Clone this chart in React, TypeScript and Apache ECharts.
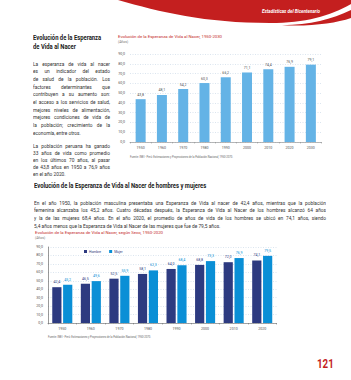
import React, { useEffect, useRef } from "react";
import * as echarts from "echarts";

// ---- Data ----
const years1 = ["1950", "1960", "1970", "1980", "1990", "2000", "2010", "2020", "2030"];
const lifeExpectancy = [43.8, 48.1, 54.2, 60.3, 66.2, 71.1, 74.4, 76.9, 79.1];
const years2 = ["1950", "1960", "1970", "1980", "1990", "2000", "2010", "2020"];
const hombres = [42.4, 46.5, 52.5, 58.1, 64.0, 68.8, 72.0, 74.1];
const mujeres = [45.2, 49.6, 55.9, 62.3, 68.4, 73.3, 76.9, 79.5];
const seriesNames = ["Hombre", "Mujer"];

const para1 = [
  "La esperanza de vida al nacer",
  "es un indicador del estado",
  "de salud de la población. Los",
  "factores determinantes que",
  "contribuyen a su aumento son:",
  "el acceso a los servicios de salud,",
  "mejores niveles de alimentación,",
  "mejores condiciones de vida de",
  "la población; crecimiento de la",
  "economía, entre otros.",
];
const para1b = [
  "La población peruana ha ganado",
  "33 años de vida como promedio",
  "en los últimos 70 años, al pasar",
  "de 43,8 años en 1950 a 76,9 años",
  "en el año 2020.",
];
const para2 = [
  "En el año 1950, la población masculina presentaba una Esperanza de Vida al nacer de 42,4 años, mientras que la población",
  "femenina alcanzaba los 45,2 años. Cuatro décadas después, la Esperanza de Vida al Nacer de los hombres alcanzó 64 años",
  "y la de las mujeres 68,4 años. En el año 2020, el promedio de años de vida de los hombres se ubicó en 74,1 años, siendo",
  "5,4 años menos que la Esperanza de Vida al Nacer de las mujeres que fue de 79,5 años.",
];

const fmt = (v: number) => v.toFixed(1).replace(".", ",");

const FONT = "Roboto, 'Noto Sans', sans-serif";

function Line(props: {
  text: string; x: number; y: number; w?: number; size: number; lh: number;
  scale: number; bold?: boolean; justify?: boolean; color?: string;
}) {
  const { text, x, y, w, size, lh, scale, bold, justify, color } = props;
  const style: React.CSSProperties = {
    position: "absolute",
    left: x,
    top: y - lh / 2,
    height: lh,
    lineHeight: lh + "px",
    fontSize: size,
    fontFamily: FONT,
    fontWeight: bold ? 700 : 400,
    color: color || "#333",
    transform: `scaleX(${scale})`,
    transformOrigin: "left center",
    whiteSpace: justify ? "normal" : "nowrap",
    textAlign: justify ? "justify" : "left",
    textAlignLast: justify ? "justify" : "left",
    width: w ? w / scale : undefined,
    overflow: "visible",
  } as React.CSSProperties;
  return <div style={style}>{text}</div>;
}

export default function App() {
  const ref = useRef<HTMLDivElement>(null);

  useEffect(() => {
    if (!ref.current) return;
    echarts.graphic.registerShape(
      "swooshMain",
      echarts.graphic.extendPath(
        "M118,0 C160,12 205,23 270,23 C305,23 330,16 351,4 L351,0 Z",
        {}
      )
    );
    echarts.graphic.registerShape(
      "swooshSliver",
      echarts.graphic.extendPath(
        "M282,25.2 C310,25 332,19 351,10 L351,18 C335,23.5 310,26.6 282,25.2 Z",
        {}
      )
    );
    const chart = echarts.init(ref.current, null, { renderer: "svg" });
    const red = "#c41f1f";
    const gridLine = { show: true, lineStyle: { color: "#c3d4e4", type: [1, 1.5] as any, width: 0.6 } };
    const axisLabelY = { fontSize: 3.6, color: "#555", margin: 5, fontFamily: FONT, formatter: (v: number) => fmt(v) };
    const axisLabelX = { fontSize: 3.6, color: "#555", margin: 4, fontFamily: FONT };

    chart.setOption({
      animation: false,
      textStyle: { fontFamily: FONT },
      grid: [
        { left: 130, right: 29.5, top: 54, bottom: 238 },
        { left: 48, right: 74.5, top: 247, bottom: 57 },
      ],
      legend: {
        data: seriesNames,
        left: 84,
        top: 250,
        itemWidth: 3,
        itemHeight: 3,
        itemGap: 8,
        padding: 0,
        textStyle: { fontSize: 3.4, color: "#2d3a80", padding: [0, 0, 0, -3] },
        icon: "rect",
      },
      xAxis: [
        {
          type: "category", gridIndex: 0, data: years1,
          axisLine: { lineStyle: { color: "#8a8a8a", width: 0.6 } },
          axisTick: { show: true, length: 1.5, lineStyle: { color: "#8a8a8a", width: 0.5 } },
          axisLabel: axisLabelX,
        },
        {
          type: "category", gridIndex: 1, data: years2,
          axisLine: { lineStyle: { color: "#6a6a6a", width: 0.6 } },
          axisTick: { show: true, length: 1.5, lineStyle: { color: "#6a6a6a", width: 0.5 } },
          axisLabel: axisLabelX,
        },
      ],
      yAxis: [
        {
          type: "value", gridIndex: 0, min: 0, max: 90, interval: 10,
          axisLine: { show: false }, axisTick: { show: false },
          splitLine: gridLine, axisLabel: axisLabelY,
        },
        {
          type: "value", gridIndex: 1, min: 0, max: 90, interval: 10,
          axisLine: { show: true, lineStyle: { color: "#555", width: 0.6 } }, axisTick: { show: false },
          splitLine: gridLine, axisLabel: axisLabelY,
        },
      ],
      series: [
        {
          type: "bar", xAxisIndex: 0, yAxisIndex: 0, data: lifeExpectancy,
          barWidth: 10, itemStyle: { color: "#64b3e6" },
          label: { show: true, position: "top", distance: 2.5, fontSize: 3.6, color: "#555", formatter: (p: any) => fmt(p.value) },
        },
        {
          name: seriesNames[0], type: "bar", xAxisIndex: 1, yAxisIndex: 1, data: hombres,
          barWidth: 9.2, barGap: "18%", itemStyle: { color: "#2d3a80" },
          label: { show: true, position: "top", distance: 3, fontSize: 3.6, color: "#2d3a80", formatter: (p: any) => fmt(p.value) },
        },
        {
          name: seriesNames[1], type: "bar", xAxisIndex: 1, yAxisIndex: 1, data: mujeres,
          barWidth: 9.2, barGap: "18%", itemStyle: { color: "#0a8fd6" },
          label: { show: true, position: "top", distance: 3, fontSize: 3.6, color: "#0a8fd6", formatter: (p: any) => fmt(p.value) },
        },
      ],
      graphic: [
        { type: "swooshMain", x: 0, y: 0, style: { fill: red } },
        { type: "swooshSliver", x: 0, y: 0, style: { fill: red } },
        {
          type: "text", x: 262, y: 11,
          style: { text: "Estadísticas del Bicentenario", fill: "#fff", fontSize: 4.6, fontStyle: "italic", fontWeight: "bold", fontFamily: FONT, verticalAlign: "middle" },
        },
        {
          type: "text", x: 118, y: 36,
          style: { text: "Evolución de la Esperanza de Vida al Nacer, 1950-2030", fill: red, fontSize: 4.3, fontFamily: FONT, verticalAlign: "middle" },
        },
        {
          type: "text", x: 118, y: 42,
          style: { text: "(Años)", fill: "#777", fontSize: 3.4, fontFamily: FONT, verticalAlign: "middle" },
        },
        {
          type: "text", x: 130, y: 157,
          style: { text: "Fuente: INEI - Perú: Estimaciones y Proyecciones de la Población Nacional, 1950-2070.", fill: "#666", fontSize: 2.7, fontFamily: FONT, verticalAlign: "middle" },
        },
        {
          type: "text", x: 35, y: 232,
          style: { text: "Evolución de la Esperanza de Vida al Nacer, según Sexo, 1950-2020", fill: red, fontSize: 4.3, fontFamily: FONT, verticalAlign: "middle" },
        },
        {
          type: "text", x: 35, y: 238,
          style: { text: "(Años)", fill: "#777", fontSize: 3.4, fontFamily: FONT, verticalAlign: "middle" },
        },
        {
          type: "text", x: 48, y: 337,
          style: { text: "Fuente: INEI - Perú: Estimaciones y Proyecciones de la Población Nacional, 1950-2070.", fill: "#666", fontSize: 2.7, fontFamily: FONT, verticalAlign: "middle" },
        },
        {
          type: "text", x: 317, y: 363, scaleX: 0.75,
          style: { text: "121", fill: red, fontSize: 13, fontWeight: "bold", fontFamily: FONT, verticalAlign: "middle" },
        },
      ],
    });
    return () => chart.dispose();
  }, []);

  const s1 = 0.8;
  const fs = 6;
  return (
    <div style={{ position: "fixed", left: 0, top: 0, width: 351, height: 380, background: "#fff", overflow: "hidden" }}>
      <div ref={ref} style={{ position: "absolute", left: 0, top: 0, width: 351, height: 380 }} />
      <Line text="Evolución de la Esperanza" x={33} y={38} size={6.8} lh={8} scale={0.86} bold color="#1a1a1a" />
      <Line text="de Vida al Nacer" x={33} y={47} size={6.8} lh={8} scale={0.86} bold color="#1a1a1a" />
      {para1.map((t, i) => (
        <Line key={"a" + i} text={t} x={33} y={63 + i * 7.7} w={77} size={fs} lh={7} scale={s1} justify={i < para1.length - 1} />
      ))}
      {para1b.map((t, i) => (
        <Line key={"b" + i} text={t} x={33} y={145 + i * 7.2} w={77} size={fs} lh={7} scale={s1} justify={i < para1b.length - 1} />
      ))}
      <Line text="Evolución de la Esperanza de Vida al Nacer de hombres y mujeres" x={34} y={186} size={6.8} lh={8} scale={0.86} bold color="#1a1a1a" />
      {para2.map((t, i) => (
        <Line key={"c" + i} text={t} x={34} y={202 + i * 7.9} w={292} size={fs} lh={7} scale={s1} justify={i < para2.length - 1} />
      ))}
    </div>
  );
}
